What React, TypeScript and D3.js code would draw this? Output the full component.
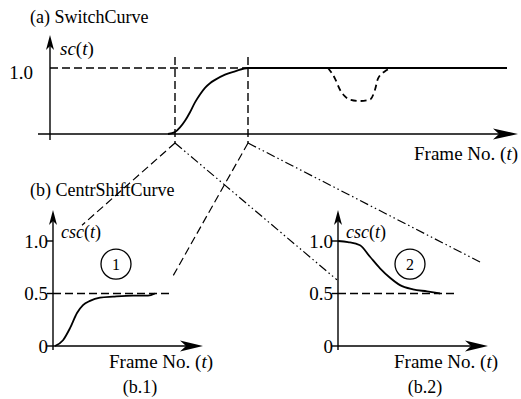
import React from "react";
import * as d3 from "d3";

// ---- data ----
const topFrames = [118, 125, 130, 135, 140, 145, 150, 155, 160, 165, 175, 185, 198, 457];
const topValues = [0, 0.03, 0.1, 0.2, 0.33, 0.48, 0.6, 0.7, 0.77, 0.82, 0.9, 0.95, 1.0, 1.0];
const dipFrames = [278, 285, 290, 295, 300, 310, 320, 325, 328, 335, 342];
const dipValues = [1.0, 0.84, 0.67, 0.57, 0.52, 0.5, 0.52, 0.67, 0.84, 0.95, 1.0];
const markerFrames = [125, 198];

const b1Frames = [2, 10, 17, 24, 30, 37, 47, 60, 80, 95, 102];
const b1Values = [0, 0.055, 0.17, 0.315, 0.39, 0.43, 0.46, 0.47, 0.48, 0.48, 0.5];
const b2Frames = [0, 10, 22, 32, 42, 52, 62, 75, 89, 102];
const b2Values = [1.0, 0.99, 0.96, 0.85, 0.74, 0.65, 0.58, 0.54, 0.52, 0.5];
const refEndFrame = 119;

const bTicks = [0, 0.5, 1.0];
const bTickLabels = ["0", "0.5", "1.0"];
const topTickLabel = "1.0";

const FONT = "'Liberation Serif', 'Times New Roman', serif";

export default function App() {
  const xTop = d3.scaleLinear().domain([0, 468]).range([50, 518]);
  const yTop = d3.scaleLinear().domain([0, 1]).range([134, 68]);
  const xB1 = d3.scaleLinear().domain([0, 150]).range([53, 203]);
  const xB2 = d3.scaleLinear().domain([0, 150]).range([338, 488]);
  const yB = d3.scaleLinear().domain([0, 1]).range([346, 241]);

  const topLine = d3
    .line<number>()
    .x((_, i) => xTop(topFrames[i]))
    .y((d) => yTop(d))
    .curve(d3.curveMonotoneX);
  const dipLine = d3
    .line<number>()
    .x((_, i) => xTop(dipFrames[i]))
    .y((d) => yTop(d))
    .curve(d3.curveMonotoneX);
  const b1Line = d3
    .line<number>()
    .x((_, i) => xB1(b1Frames[i]))
    .y((d) => yB(d))
    .curve(d3.curveMonotoneX);
  const b2Line = d3
    .line<number>()
    .x((_, i) => xB2(b2Frames[i]))
    .y((d) => yB(d))
    .curve(d3.curveMonotoneX);

  const dash = "8,4";
  const dashDot = "9,3,1.5,3,1.5,3";
  const sw = 1.4;

  const arrowRight = (x: number, y: number, len = 23, hw = 5.5) =>
    `M${x},${y} L${x - len},${y - hw} L${x - len + 6},${y} L${x - len},${y + hw} Z`;
  const arrowUp = (x: number, y: number, len = 15, hw = 4) =>
    `M${x},${y} L${x - hw},${y + len} L${x},${y + len - 4} L${x + hw},${y + len} Z`;

  const apexY = 143;
  const apex1 = xTop(markerFrames[0]);
  const apex2 = xTop(markerFrames[1]);

  const conn = [
    { x1: apex1, x2: xB1(29), y2: yB(1.15), da: dash },
    { x1: apex1, x2: xB2(-1), y2: yB(0.63), da: dashDot },
    { x1: apex2, x2: xB1(119), y2: yB(0.65), da: dash },
    { x1: apex2, x2: xB2(142), y2: yB(0.8), da: dashDot },
  ];

  const txt = { fontFamily: FONT, fill: "#000" } as const;

  const bPanel = (xs: d3.ScaleLinear<number, number>, path: string, label: string, circleFrame: number, circleNum: string) => {
    const x0 = xs(0);
    return (
      <g>
        <line x1={x0} x2={x0} y1={yB(0) + 4} y2={yB(1) - 20} stroke="#000" strokeWidth={sw} />
        <path d={arrowUp(x0, yB(1) - 31)} fill="#000" />
        <line x1={x0} x2={xs(140)} y1={yB(0)} y2={yB(0)} stroke="#000" strokeWidth={sw} />
        <path d={arrowRight(xs(150), yB(0))} fill="#000" />
        {bTicks.map((t, i) => (
          <g key={i}>
            <line x1={x0 - 6} x2={x0} y1={yB(t)} y2={yB(t)} stroke="#000" strokeWidth={sw} />
            <text x={x0 - 5} y={yB(t)} dy="0.35em" textAnchor="end" fontSize={19} {...txt}>
              {bTickLabels[i]}
            </text>
          </g>
        ))}
        <line x1={x0} x2={xs(refEndFrame)} y1={yB(0.5)} y2={yB(0.5)} stroke="#000" strokeWidth={sw} strokeDasharray={dash} />
        <path d={path} fill="none" stroke="#000" strokeWidth={1.8} />
        <text x={x0 + 8} y={yB(1) - 3} fontSize={18} {...txt}>
          <tspan fontStyle="italic">csc</tspan>(<tspan fontStyle="italic">t</tspan>)
        </text>
        <circle cx={xs(circleFrame)} cy={yB(0.78)} r={15} fill="none" stroke="#000" strokeWidth={1.3} />
        <text x={xs(circleFrame)} y={yB(0.78)} dy="0.35em" textAnchor="middle" fontSize={16} {...txt}>
          {circleNum}
        </text>
        <text x={xs(150) + 10} y={368} textAnchor="end" fontSize={19} {...txt}>
          Frame No. (<tspan fontStyle="italic">t</tspan>)
        </text>
        <text x={xs(87)} y={393} textAnchor="middle" fontSize={18} {...txt}>
          {label}
        </text>
      </g>
    );
  };

  return (
    <div style={{ position: "absolute", left: 0, top: 0 }}>
      <svg width={521} height={399} style={{ display: "block", background: "#fff" }}>
        <rect width={521} height={399} fill="#fff" />
        <text x={30} y={23} fontSize={18} {...txt}>(a) SwitchCurve</text>
        <text x={30} y={196} fontSize={18} {...txt}>(b) CentrShiftCurve</text>

        <line x1={xTop(0)} x2={xTop(0)} y1={140} y2={46} stroke="#000" strokeWidth={sw} />
        <path d={arrowUp(xTop(0), 35)} fill="#000" />
        <line x1={38} x2={xTop(455)} y1={yTop(0)} y2={yTop(0)} stroke="#000" strokeWidth={sw} />
        <path d={arrowRight(xTop(468), yTop(0), 25, 5.5)} fill="#000" />
        <text x={33} y={yTop(1)} dy="0.6em" textAnchor="end" fontSize={19} {...txt}>{topTickLabel}</text>
        <text x={60} y={55} fontSize={19} {...txt}>
          <tspan fontStyle="italic">sc</tspan>(<tspan fontStyle="italic">t</tspan>)
        </text>
        <text x={518} y={160} textAnchor="end" fontSize={19} {...txt}>
          Frame No. (<tspan fontStyle="italic">t</tspan>)
        </text>
        <line x1={xTop(0)} x2={xTop(200)} y1={yTop(1)} y2={yTop(1)} stroke="#000" strokeWidth={sw} strokeDasharray={dash} />
        {markerFrames.map((f, i) => (
          <line key={i} x1={xTop(f)} x2={xTop(f)} y1={57} y2={apexY} stroke="#000" strokeWidth={sw} strokeDasharray={dash} />
        ))}
        <path d={topLine(topValues) || ""} fill="none" stroke="#000" strokeWidth={1.8} />
        <path d={dipLine(dipValues) || ""} fill="none" stroke="#000" strokeWidth={1.8} strokeDasharray="6,4" />

        {conn.map((c, i) => (
          <line key={i} x1={c.x1} y1={apexY} x2={c.x2} y2={c.y2} stroke="#000" strokeWidth={1.2} strokeDasharray={c.da} />
        ))}

        {bPanel(xB1, b1Line(b1Values) || "", "(b.1)", 63, "1")}
        {bPanel(xB2, b2Line(b2Values) || "", "(b.2)", 72, "2")}
      </svg>
    </div>
  );
}
